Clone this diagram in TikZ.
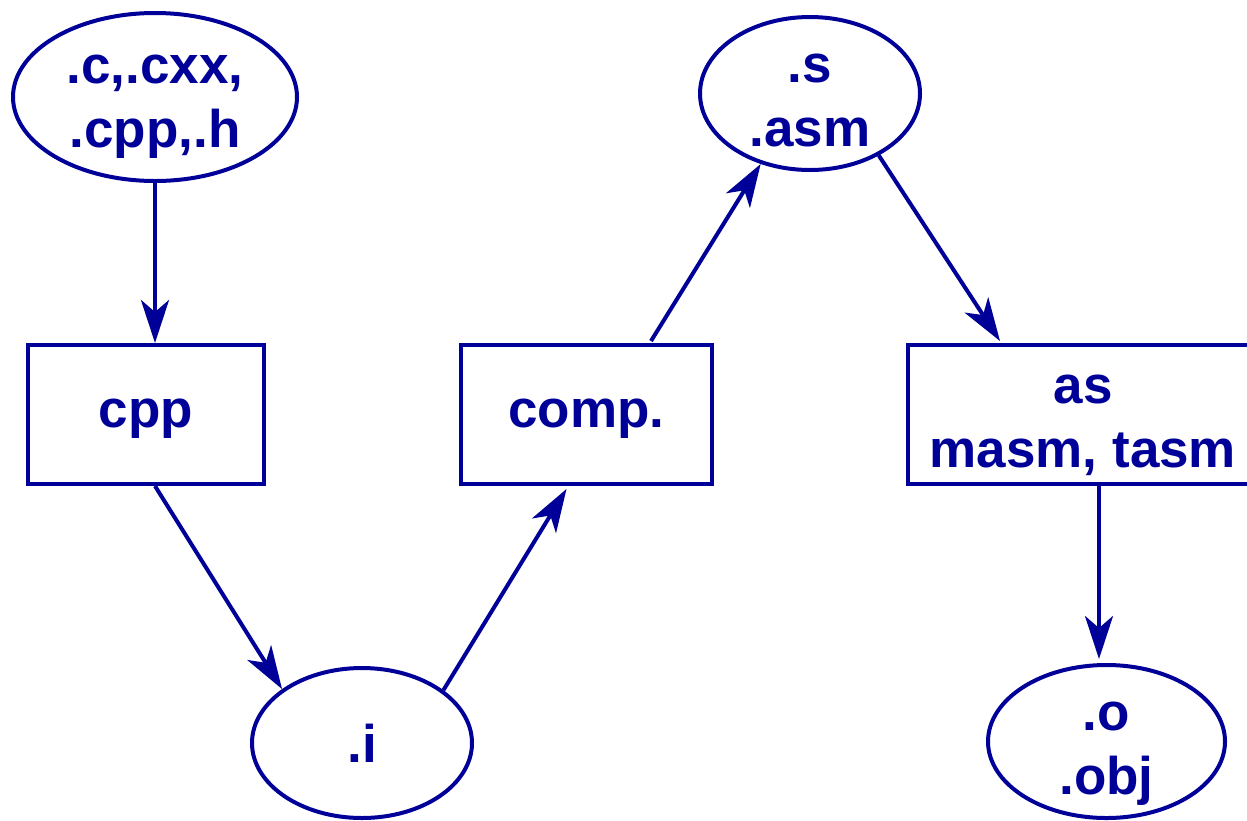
\documentclass[tikz,border=0pt]{standalone}
\usepackage{fontspec}
\setmainfont{Liberation Sans}
\usetikzlibrary{shapes.geometric,arrows.meta,calc}
\definecolor{ink}{RGB}{0,0,153}
\tikzset{
  shape base/.style={draw=ink,line width=4pt,text=ink,align=center,
    font=\fontsize{53pt}{64pt}\selectfont\bfseries},
  file/.style={ellipse,shape base,inner sep=-30pt},
  tool/.style={rectangle,shape base,inner sep=0pt},
  two lines/.style={text height=115pt,text depth=10pt},
  flow/.style={draw=ink,line width=4pt,-{Stealth[length=43pt,width=28pt,inset=12pt]}}
}
\begin{document}
\begin{tikzpicture}[x=1pt,y=-1pt]
\useasboundingbox (0,0) rectangle (1247,820);
% source files and tools of the build chain
\node[file,minimum width=284pt,minimum height=168pt,text height=110pt,text depth=10pt] (src) at (155,97) {.c,.cxx,\\.cpp,.h};
\node[tool,minimum width=236pt,minimum height=139pt,text height=37pt,text depth=12pt] (cpp) at (146,414.5) {cpp};
\node[file,minimum width=220pt,minimum height=150pt,text height=38pt,text depth=0pt] (pre) at (362,743) {.i};
\node[tool,minimum width=251pt,minimum height=139pt,text height=37pt,text depth=12pt] (comp) at (586.5,414.5) {comp.};
\node[file,minimum width=220pt,minimum height=153pt,two lines] (asmf) at (810,93.5) {.s\\.asm};
\node[tool,minimum width=350pt,minimum height=139pt,two lines] (as) at (1083,414.5) {as\\masm, tasm};
\node[file,minimum width=237pt,minimum height=153pt,two lines] (obj) at (1106.5,741.5) {.o\\.obj};
% connectors
\coordinate (cppin) at (src.south |- cpp.north);
\coordinate (cppout) at (src.south |- cpp.south);
\coordinate (compin) at ($(comp.south)+(-20,3)$);
\coordinate (compout) at ($(comp.north)+(64.5,-2)$);
\coordinate (asin) at ($(as.north)+(-83,-2)$);
\coordinate (objin) at ($(obj.north)+(-7.5,-4)$);
\coordinate (asout) at (objin |- as.south);
\draw[flow] (src.south) -- (cppin);
\draw[flow] (cppout) -- (pre.146);
\draw[flow] (pre.33) -- (compin);
\draw[flow] (compout) -- (asmf.235);
\draw[flow] (asmf.318) -- (asin);
\draw[flow] (asout) -- (objin);
\end{tikzpicture}
\end{document}
